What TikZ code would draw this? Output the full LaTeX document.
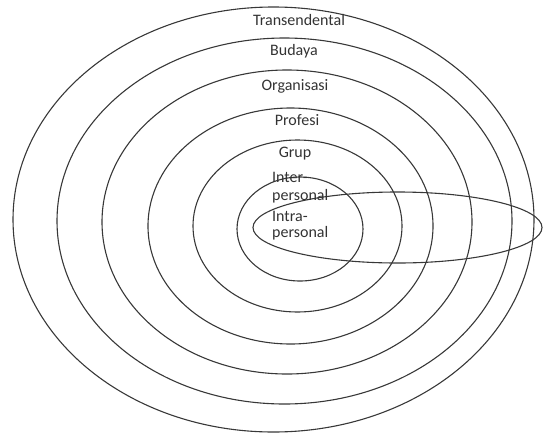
\documentclass[tikz,border=0pt]{standalone}
\usepackage{fontspec}
\setmainfont{Carlito}
\begin{document}
\begin{tikzpicture}[x=1pt,y=-1pt,
  ring/.style={draw=black!78,line width=1.1pt},
  lbl/.style={text=black!80,font=\fontsize{16}{17.5}\selectfont,inner sep=0pt}]
\useasboundingbox (0,0) rectangle (543,434);
% nested spheres of communication
\draw[ring] (273.5,219.5) ellipse [x radius=260.5,y radius=212.5];
\draw[ring] (284.5,221) ellipse [x radius=227.5,y radius=183];
\draw[ring] (287,222) ellipse [x radius=185,y radius=152];
\draw[ring] (290.5,226) ellipse [x radius=142.5,y radius=118];
\draw[ring] (297.5,226) ellipse [x radius=104.5,y radius=86];
\draw[ring] (300,229) ellipse [x radius=63,y radius=52];
% elongated intrapersonal ellipse
\draw[ring] (397.5,227.5) ellipse [x radius=144.5,y radius=35.5];
% labels
\node[lbl,anchor=base] (trans) at (299,25) {Transendental};
\node[lbl,anchor=base] (bud) at (294,55) {Budaya};
\node[lbl,anchor=base] (org) at (295,90.5) {Organisasi};
\node[lbl,anchor=base] (prof) at (297,125) {Profesi};
\node[lbl,anchor=base] (grup) at (295,157) {Grup};
\node[lbl,anchor=base west] (inter1) at (272,182) {Inter-};
\node[lbl,anchor=base west] (inter2) at (272,200) {personal};
\node[lbl,anchor=base west] (intra1) at (272,221) {Intra-};
\node[lbl,anchor=base west] (intra2) at (272,237) {personal};
\end{tikzpicture}
\end{document}
